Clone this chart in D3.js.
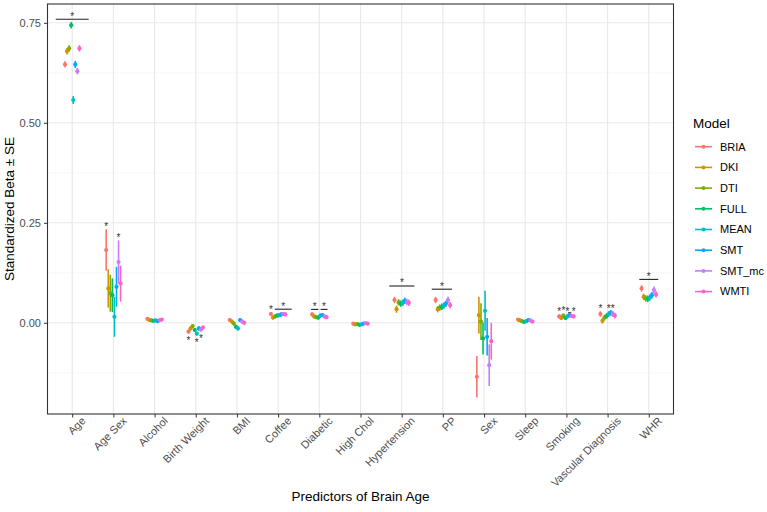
<!DOCTYPE html>
<html>
<head>
<meta charset="utf-8">
<script src="https://cdn.jsdelivr.net/npm/d3@7/dist/d3.min.js"></script>
<style>
  body { margin: 0; background: #fff; }
  svg { font-family: "Liberation Sans", Arial, sans-serif; }
</style>
</head>
<body>
<svg id="chart" width="767" height="512"></svg>
<script>
// Predictors on the x axis (one group of 8 models each).
const categories = ['Age', 'Age Sex', 'Alcohol', 'Birth Weight', 'BMI', 'Coffee', 'Diabetic',
  'High Chol', 'Hypertension', 'PP', 'Sex', 'Sleep', 'Smoking', 'Vascular Diagnosis', 'WHR'];
const models = ['BRIA', 'DKI', 'DTI', 'FULL', 'MEAN', 'SMT', 'SMT_mc', 'WMTI'];
const colors = ['#F8766D', '#CD9600', '#7CAE00', '#00BE67', '#00BFC4', '#00A9FF', '#C77CFF', '#FF61CC'];

// Standardized betas, one value per category, per model.
const betaBRIA  = [0.646, 0.182, 0.010, -0.022,  0.007, 0.022, 0.021, -0.002, 0.057, 0.057, -0.135, 0.008, 0.016, 0.022, 0.086];
const betaDKI   = [0.679, 0.086, 0.007, -0.014,  0.003, 0.013, 0.016, -0.004, 0.034, 0.034,  0.019, 0.006, 0.012, 0.005, 0.065];
const betaDTI   = [0.686, 0.074, 0.006, -0.008, -0.002, 0.016, 0.014, -0.003, 0.051, 0.038,  0.003, 0.004, 0.018, 0.013, 0.061];
const betaFULL  = [0.744, 0.069, 0.005, -0.018, -0.010, 0.018, 0.013, -0.005, 0.048, 0.040, -0.039, 0.002, 0.012, 0.017, 0.060];
const betaMEAN  = [0.557, 0.015, 0.006, -0.027, -0.014, 0.019, 0.018, -0.004, 0.050, 0.043,  0.030, 0.004, 0.016, 0.022, 0.063];
const betaSMT   = [0.646, 0.090, 0.004, -0.014,  0.007, 0.021, 0.019, -0.002, 0.055, 0.048, -0.035, 0.007, 0.019, 0.025, 0.069];
const betaSMTmc = [0.629, 0.152, 0.007, -0.017,  0.003, 0.022, 0.016, -0.001, 0.052, 0.057, -0.106, 0.006, 0.017, 0.022, 0.082];
const betaWMTI  = [0.686, 0.098, 0.008, -0.012,  0.000, 0.021, 0.014, -0.002, 0.050, 0.044, -0.046, 0.003, 0.016, 0.018, 0.071];

// Standard errors, same layout.
const seBRIA  = [0.008, 0.052, 0.004, 0.005, 0.005, 0.005, 0.005, 0.004, 0.008, 0.008, 0.052, 0.004, 0.005, 0.007, 0.008];
const seDKI   = [0.008, 0.048, 0.004, 0.005, 0.005, 0.005, 0.005, 0.004, 0.009, 0.008, 0.046, 0.004, 0.005, 0.007, 0.008];
const seDTI   = [0.008, 0.046, 0.004, 0.005, 0.005, 0.005, 0.005, 0.004, 0.008, 0.008, 0.046, 0.004, 0.005, 0.007, 0.008];
const seFULL  = [0.008, 0.042, 0.004, 0.005, 0.005, 0.005, 0.005, 0.004, 0.008, 0.008, 0.040, 0.004, 0.005, 0.007, 0.008];
const seMEAN  = [0.010, 0.050, 0.004, 0.005, 0.005, 0.005, 0.005, 0.004, 0.008, 0.008, 0.050, 0.004, 0.005, 0.007, 0.008];
const seSMT   = [0.009, 0.050, 0.004, 0.005, 0.005, 0.005, 0.005, 0.004, 0.008, 0.008, 0.047, 0.004, 0.005, 0.007, 0.008];
const seSMTmc = [0.008, 0.054, 0.004, 0.005, 0.005, 0.005, 0.005, 0.004, 0.008, 0.008, 0.052, 0.004, 0.005, 0.007, 0.009];
const seWMTI  = [0.008, 0.045, 0.004, 0.005, 0.005, 0.005, 0.005, 0.004, 0.008, 0.008, 0.046, 0.004, 0.005, 0.007, 0.008];

// Categories where each model's own estimate is starred.
const starBRIA  = ['Age Sex', 'Birth Weight', 'Coffee', 'Smoking', 'Vascular Diagnosis'];
const starDKI   = [];
const starDTI   = ['Smoking'];
const starFULL  = [];
const starMEAN  = ['Birth Weight', 'Smoking', 'Vascular Diagnosis'];
const starSMT   = [];
const starSMTmc = ['Age Sex', 'Birth Weight', 'Vascular Diagnosis'];
const starWMTI  = ['Smoking'];

// Group-level bars: category, start/end (in category widths), height, with star.
const barCat  = ['Age', 'Coffee', 'Diabetic', 'Diabetic', 'Hypertension', 'PP', 'Smoking', 'WHR'];
const barFrom = [-0.40, -0.08, -0.20, 0.03, -0.30, -0.27, 0.04, -0.23];
const barTo   = [ 0.40,  0.33, -0.02, 0.20,  0.31,  0.22, 0.12,  0.23];
const barY    = [0.759, 0.034, 0.0335, 0.0335, 0.092, 0.084, 0.025, 0.1085];
const barStar = [true, true, true, true, true, true, false, true];

const yTicks = [0, 0.25, 0.5, 0.75];
const yMinor = [-0.125, 0.125, 0.375, 0.625];

const betas = [betaBRIA, betaDKI, betaDTI, betaFULL, betaMEAN, betaSMT, betaSMTmc, betaWMTI];
const ses = [seBRIA, seDKI, seDTI, seFULL, seMEAN, seSMT, seSMTmc, seWMTI];
const stars = [starBRIA, starDKI, starDTI, starFULL, starMEAN, starSMT, starSMTmc, starWMTI];

const rows = [];
models.forEach((m, mi) => categories.forEach((c, ci) => rows.push({
  model: m, cat: c, beta: betas[mi][ci], se: ses[mi][ci], star: stars[mi].includes(c)
})));

const svg = d3.select('#chart');
const panel = { left: 47.5, right: 673.5, top: 4, bottom: 414 };

const x = d3.scalePoint().domain(categories).range([panel.left, panel.right]).padding(0.6);
const step = x.step();
const dodge = d3.scalePoint().domain(models).range([-0.175 * step, 0.175 * step]);
const y = d3.scaleLinear().domain([-0.228, 0.797]).range([panel.bottom, panel.top]);
const color = d3.scaleOrdinal().domain(models).range(colors);

// Grid
const grid = svg.append('g');
grid.selectAll('line.minor').data(yMinor).join('line')
  .attr('x1', panel.left).attr('x2', panel.right)
  .attr('y1', (d) => y(d)).attr('y2', (d) => y(d))
  .attr('stroke', '#f2f2f2').attr('stroke-width', 0.6);
grid.selectAll('line.major').data(yTicks).join('line')
  .attr('x1', panel.left).attr('x2', panel.right)
  .attr('y1', (d) => y(d)).attr('y2', (d) => y(d))
  .attr('stroke', '#e8e8e8').attr('stroke-width', 1.1);
grid.selectAll('line.vx').data(categories).join('line')
  .attr('x1', (d) => x(d)).attr('x2', (d) => x(d))
  .attr('y1', panel.top).attr('y2', panel.bottom)
  .attr('stroke', '#e8e8e8').attr('stroke-width', 1.1);

// Group significance bars
const bars = barCat.map((c, i) => ({ cat: c, from: barFrom[i], to: barTo[i], y: barY[i], star: barStar[i] }));
svg.append('g').selectAll('line').data(bars).join('line')
  .attr('x1', (d) => x(d.cat) + d.from * step).attr('x2', (d) => x(d.cat) + d.to * step)
  .attr('y1', (d) => y(d.y)).attr('y2', (d) => y(d.y))
  .attr('stroke', '#222').attr('stroke-width', 1.1);
svg.append('g').selectAll('text').data(bars.filter((d) => d.star)).join('text')
  .attr('x', (d) => x(d.cat) + (d.from + d.to) / 2 * step)
  .attr('y', (d) => y(d.y + 0.013))
  .attr('dy', '0.55em').attr('text-anchor', 'middle')
  .attr('font-size', 10).attr('fill', '#333').text('*');

// Error bars and points
const px = (d) => x(d.cat) + dodge(d.model);
svg.append('g').selectAll('line').data(rows).join('line')
  .attr('x1', px).attr('x2', px)
  .attr('y1', (d) => y(d.beta - d.se)).attr('y2', (d) => y(d.beta + d.se))
  .attr('stroke', (d) => color(d.model)).attr('stroke-width', 1.6);
svg.append('g').selectAll('circle').data(rows).join('circle')
  .attr('cx', px).attr('cy', (d) => y(d.beta)).attr('r', 2.1)
  .attr('fill', (d) => color(d.model));

// Per-model stars: above the bar for positive betas, below for negative.
svg.append('g').selectAll('text').data(rows.filter((d) => d.star)).join('text')
  .attr('x', px)
  .attr('y', (d) => y(d.beta >= 0 ? d.beta + d.se + 0.012 : d.beta - d.se - 0.012))
  .attr('dy', '0.55em').attr('text-anchor', 'middle')
  .attr('font-size', 10).attr('fill', '#333').text('*');

// Panel border
svg.append('rect')
  .attr('x', panel.left).attr('y', panel.top)
  .attr('width', panel.right - panel.left).attr('height', panel.bottom - panel.top)
  .attr('fill', 'none').attr('stroke', '#333').attr('stroke-width', 1.1);

// Axes
const yAxis = svg.append('g').attr('transform', `translate(${panel.left},0)`)
  .call(d3.axisLeft(y).tickValues(yTicks).tickFormat(d3.format('.2f')).tickSize(3.5).tickPadding(3));
yAxis.select('.domain').remove();
yAxis.selectAll('line').attr('stroke', '#333');
yAxis.selectAll('text').attr('fill', '#4d4d4d').attr('font-size', 11).attr('font-family', null);

const xAxis = svg.append('g').attr('transform', `translate(0,${panel.bottom})`)
  .call(d3.axisBottom(x).tickSize(3.5).tickPadding(0));
xAxis.select('.domain').remove();
xAxis.selectAll('line').attr('stroke', '#333');
xAxis.selectAll('text')
  .attr('fill', '#4d4d4d').attr('font-size', 11).attr('font-family', null)
  .attr('text-anchor', 'end')
  .attr('transform', 'translate(8,2) rotate(-45)')
  .attr('y', 0).attr('dy', '0.71em');

// Axis titles
svg.append('text')
  .attr('transform', `translate(14,${(panel.top + panel.bottom) / 2}) rotate(-90)`)
  .attr('text-anchor', 'middle').attr('font-size', 13.5).attr('fill', '#000')
  .text('Standardized Beta \u00B1 SE');
svg.append('text')
  .attr('x', (panel.left + panel.right) / 2).attr('y', 501)
  .attr('text-anchor', 'middle').attr('font-size', 13.5).attr('fill', '#000')
  .text('Predictors of Brain Age');

// Legend
const legend = svg.append('g').attr('transform', 'translate(693,0)');
legend.append('text').attr('x', 0).attr('y', 127.5).attr('font-size', 13.5).text('Model');
const key = legend.selectAll('g.key').data(models).join('g')
  .attr('transform', (d, i) => `translate(0,${146.7 + i * 20.7})`);
key.append('line').attr('x1', 2).attr('x2', 19).attr('y1', 0).attr('y2', 0)
  .attr('stroke', (d) => color(d)).attr('stroke-width', 1.6);
key.append('circle').attr('cx', 10.5).attr('cy', 0).attr('r', 2).attr('fill', (d) => color(d));
key.append('text').attr('x', 27).attr('y', 0).attr('dy', '0.35em')
  .attr('font-size', 11).attr('fill', '#000').text((d) => d);
</script>
</body>
</html>
